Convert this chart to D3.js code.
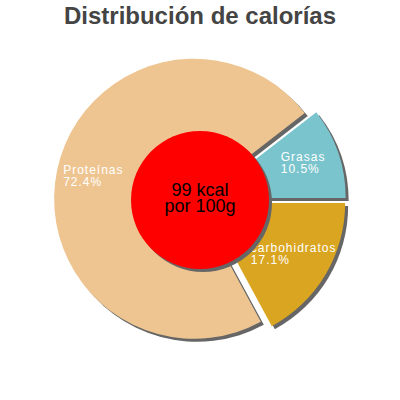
<!DOCTYPE html>
<html>
<head>
<meta charset="utf-8">
<script src="https://cdn.jsdelivr.net/npm/d3@7"></script>
<style>
    html, body { margin: 0; padding: 0; background: #fff; }
    svg { display: block; font-family: "Liberation Sans", Arial, sans-serif; }
</style>
</head>
<body>
<div id="container"><svg width="400" height="400"></svg></div>
<script>
var categories = ['Grasas', 'carbohidratos', 'Proteínas'];
var percents = [10.5, 17.1, 72.4];
var colors = ['#7AC5CD', '#DAA520', '#EEC591'];
var titleText = 'Distribución de calorías';
var centerLines = ['99 kcal', 'por 100g'];

var svg = d3.select('#container svg');
var width = 400;
var cx = 200, cy = 200;
var radius = 140;
var explode = 6;

// title
svg.append('text')
    .attr('x', width / 2)
    .attr('y', 24)
    .attr('text-anchor', 'middle')
    .attr('font-size', 24)
    .attr('font-weight', 'bold')
    .attr('fill', '#444')
    .text(titleText);

var data = categories.map(function(c, i) {
    return { name: c, value: percents[i], color: colors[i] };
});

// first slice ends at 3 o'clock
var total = d3.sum(percents);
var start = Math.PI / 2 - 2 * Math.PI * percents[0] / total;
var pie = d3.pie()
    .sort(null)
    .value(function(d) { return d.value; })
    .startAngle(start)
    .endAngle(start + 2 * Math.PI);

var arcs = pie(data);
var arc = d3.arc().innerRadius(0).outerRadius(radius);
var offsetArc = d3.arc().innerRadius(explode).outerRadius(explode);
var labelArc = d3.arc().innerRadius(103).outerRadius(103);

var g = svg.append('g').attr('transform', 'translate(' + cx + ',' + cy + ')');

function shift(d) {
    var c = offsetArc.centroid(d);
    return 'translate(' + c[0] + ',' + c[1] + ')';
}

// shadows first, then slices
g.selectAll('path.shadow')
    .data(arcs)
    .enter().append('path')
    .attr('class', 'shadow')
    .attr('d', arc)
    .attr('fill', '#666')
    .attr('transform', function(d) { return shift(d) + ' translate(3,3)'; });

g.selectAll('path.slice')
    .data(arcs)
    .enter().append('path')
    .attr('class', 'slice')
    .attr('d', arc)
    .attr('fill', function(d) { return d.data.color; })
    .attr('transform', shift);

// labels: two left-aligned lines centred on the label point
arcs.forEach(function(d) {
    var o = offsetArc.centroid(d);
    var c = labelArc.centroid(d);
    var px = o[0] + c[0], py = o[1] + c[1];
    var t = g.append('text')
        .attr('fill', '#fff')
        .attr('font-size', 12)
        .attr('letter-spacing', 1);
    var l1 = t.append('tspan').attr('y', py - 3.5).text(d.data.name);
    var l2 = t.append('tspan').attr('y', py + 8.5).text(d.data.value.toFixed(1) + '%');
    var w = Math.max(l1.node().getComputedTextLength(), l2.node().getComputedTextLength());
    l1.attr('x', px - w / 2);
    l2.attr('x', px - w / 2);
});

// center disc
g.append('circle').attr('cx', 3).attr('cy', 3).attr('r', 69).attr('fill', '#666');
g.append('circle').attr('r', 69).attr('fill', '#FF0000');

g.selectAll('text.center')
    .data(centerLines)
    .enter().append('text')
    .attr('class', 'center')
    .attr('text-anchor', 'middle')
    .attr('y', function(d, i) { return -4.3 + i * 16.6; })
    .attr('font-size', 18)
    .attr('fill', '#000')
    .text(function(d) { return d; });
</script>
</body>
</html>
